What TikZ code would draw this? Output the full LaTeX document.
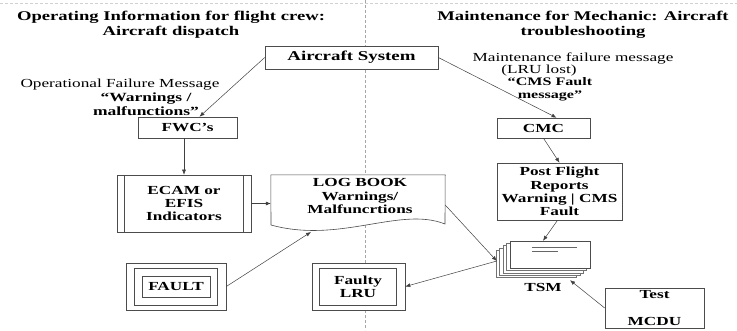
\documentclass[tikz,border=0pt]{standalone}
\usepackage{fontspec}
\setmainfont{Liberation Serif}[FakeStretch=1.4]
\usetikzlibrary{arrows.meta}
\newcommand\bxfont{\fontsize{12.3}{13.3}\selectfont\bfseries}
\newcommand\ttlfont{\fontsize{13.3}{15}\selectfont\bfseries}
\newcommand\lblfont{\fontsize{12.3}{13}\selectfont}
\begin{document}
\begin{tikzpicture}[x=1pt,y=-1pt,
  box/.style={draw=black!70, line width=0.6pt, fill=white, inner sep=0pt, align=center, font=\bxfont},
  plain/.style={inner sep=0pt, align=center},
  arr/.style={draw=black!75, line width=0.5pt, -{Latex[length=5pt,width=4pt]}},
  sheet/.style={draw=black!55, line width=0.8pt, fill=white},
  divider/.style={draw=black!35, line width=0.4pt, dash pattern=on 3pt off 2pt}]
\useasboundingbox (0,0) rectangle (737,330);
% dividers
\coordinate (dvt) at (365,0); \coordinate (dvb) at (365,330);
\coordinate (dhl) at (0,3); \coordinate (dhr) at (737,3);
\draw[divider] (dvt) -- (dvb);
\draw[divider, draw=black!18] (dhl) -- (dhr);
% titles
\node[plain, font=\ttlfont] (tl) at (171,24.5) {Operating Information for flight crew:\\Aircraft dispatch};
\node[plain, font=\ttlfont] (tr) at (583,24.5) {Maintenance for Mechanic: Aircraft\\troubleshooting};
% labels
\node[plain, font=\lblfont] (ofm) at (120,85) {Operational Failure Message};
\node[plain, font=\fontsize{12.5}{14}\selectfont\bfseries] (wm) at (146,104.5) {“Warnings /\\malfunctions”};
\node[plain, font=\lblfont] (mfm) at (573,58) {Maintenance failure message};
\node[plain, font=\lblfont] (lru) at (539,70.5) {(LRU lost)};
\node[plain, font=\fontsize{11.5}{13}\selectfont\bfseries] (cmsf) at (550,89) {“CMS Fault\\message”};
% boxes
\node[box, minimum width=173, minimum height=23, font=\fontsize{13.5}{15}\selectfont\bfseries] (as) at (351.5,57.5) {Aircraft System};
\node[box, minimum width=99, minimum height=21] (fwc) at (187.5,127.5) {FWC’s};
\node[box, minimum width=93, minimum height=20] (cmc) at (543.5,128) {CMC};
\node[box, minimum width=134, minimum height=57] (ecam) at (184,203.5) {ECAM or\\EFIS\\Indicators};
\draw[draw=black!70, line width=0.6pt] ([xshift=8]ecam.north west) -- ([xshift=8]ecam.south west);
\draw[draw=black!70, line width=0.6pt] ([xshift=-8]ecam.north east) -- ([xshift=-8]ecam.south east);
% log book (document shape)
\node[inner sep=0pt, minimum width=174, minimum height=57] (log) at (358,203.5) {};
\draw[draw=black!70, line width=0.6pt, fill=white] (log.north west) -- (log.north east) -- (445,224) .. controls (400,206) and (340,244) .. (271,225) -- cycle;
\coordinate (logtr) at (311,232);
\node[plain, font=\bxfont] (logt) at (360,196) {LOG BOOK\\Warnings/\\Malfuncrtions};
% post flight
\node[box, minimum width=125, minimum height=57] (post) at (559.5,191.5) {Post Flight\\Reports\\Warning | CMS\\Fault};
% TSM stack
\node[inner sep=0pt, minimum width=80, minimum height=27] (tsm) at (550,254.5) {};
\foreach \k in {4,3,2,1}{
  \draw[sheet] ([xshift=-3.4*\k, yshift=-2.4*\k]tsm.north west) rectangle ([xshift=-3.4*\k, yshift=-2.4*\k]tsm.south east);
}
\draw[draw=black!70, line width=0.6pt, fill=white] (tsm.north west) rectangle (tsm.south east);
\draw[draw=black!60, line width=0.8pt] ([xshift=22, yshift=-7]tsm.north west) -- ++(45,0);
\draw[draw=black!60, line width=0.8pt] ([xshift=22, yshift=-11]tsm.north west) -- ++(26,0);
\node[plain, font=\bxfont] (tsml) at (543,287) {TSM};
\coordinate (tsmw) at ([xshift=-13, yshift=-6.5]tsm.west);
% FAULT
\node[box, minimum width=100, minimum height=47] (fault) at (176,286.5) {};
\node[box, minimum width=83, minimum height=37] (faultm) at (175.5,286.5) {};
\node[box, minimum width=68, minimum height=21] (faulti) at (176,286.5) {FAULT};
% Faulty LRU
\node[box, minimum width=93, minimum height=47] (flru) at (358.5,286.5) {};
\node[box, minimum width=77, minimum height=37] (flrui) at (358,286.5) {Faulty\\LRU};
% Test MCDU
\node[box, minimum width=99, minimum height=40] (mcdu) at (654.5,308) {Test\\[13.5pt]MCDU};
% connectors
\draw[arr] (as.west) -- ([xshift=12]fwc.north);
\draw[arr] (as.east) -- ([xshift=13]cmc.north);
\draw[arr] (ecam.north |- fwc.south) -- (ecam.north);
\draw[arr] (ecam.east) -- (ecam.east -| log.west);
\draw[arr] (fault.east) -- (logtr);
\draw[arr] (cmc.south) -- (post.north);
\draw[arr] ([xshift=-2]post.south) -- ([xshift=-7]tsm.north);
\draw[arr] ([yshift=-1.5]log.east) -- (tsmw);
\draw[arr] (tsmw) -- (flru.east);
\draw[arr] (mcdu.west) -- ([xshift=20, yshift=-12]tsm.south);
\end{tikzpicture}
\end{document}
